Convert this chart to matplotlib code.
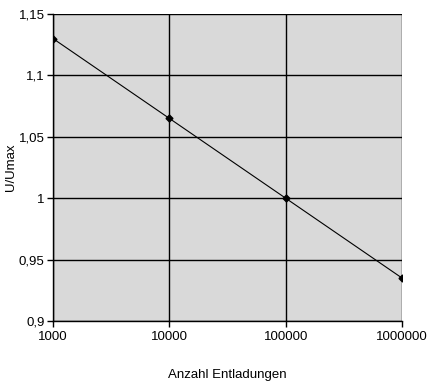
import numpy as np
import matplotlib
matplotlib.use("Agg")
import matplotlib.pyplot as plt
from matplotlib.ticker import FixedLocator, FuncFormatter, NullLocator

# data
entladungen = [1000, 10000, 100000, 1000000]
u_umax = [1.13, 1.065, 1.0, 0.935]
x_ticks = [1000, 10000, 100000, 1000000]
y_ticks = [0.9, 0.95, 1.0, 1.05, 1.1, 1.15]

plt.rcParams['font.family'] = ['Liberation Sans', 'DejaVu Sans']

fig = plt.figure(figsize=(4.39, 3.84), dpi=100)
ax = fig.add_axes([53/439, 1-321/384, (402-53)/439, (321-14)/384])
ax.set_facecolor('#d9d9d9')

ax.plot(entladungen, u_umax, '-', color='black', linewidth=0.8,
        marker='D', markersize=3.5, zorder=3)

ax.set_xscale('log')
ax.set_xlim(1000, 1000000)
ax.set_ylim(0.9, 1.15)
ax.xaxis.set_major_locator(FixedLocator(x_ticks))
ax.xaxis.set_minor_locator(NullLocator())
ax.xaxis.set_major_formatter(FuncFormatter(lambda v, p: '%d' % round(v)))
ax.yaxis.set_major_locator(FixedLocator(y_ticks))
ax.yaxis.set_major_formatter(FuncFormatter(lambda v, p: ('%g' % round(v, 2)).replace('.', ',')))

ax.grid(True, color='black', linewidth=1.0)
ax.set_axisbelow(True)
for s in ['top', 'right']:
    ax.spines[s].set_visible(False)
for s in ['left', 'bottom']:
    ax.spines[s].set_linewidth(1.0)

ax.tick_params(axis='both', length=4, width=1.0, labelsize=9.5, colors='black')
ax.tick_params(axis='x', pad=3)
ax.tick_params(axis='y', pad=2)

ax.set_xlabel('Anzahl Entladungen', fontsize=9.5)
ax.xaxis.set_label_coords(0.5, -0.155)
fig.text(11/439, 1-167/384, 'U/Umax', rotation=90, fontsize=9.5,
         ha='center', va='center')

fig.savefig('out.png', dpi=100)
